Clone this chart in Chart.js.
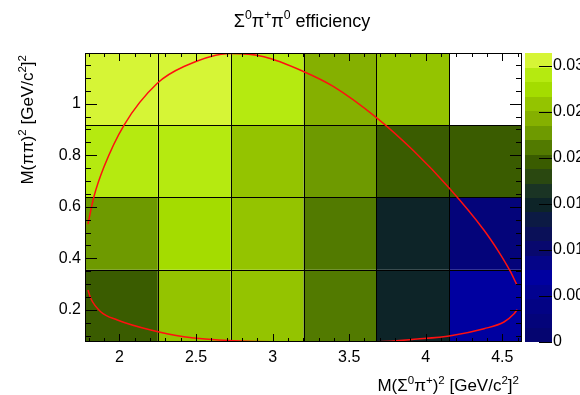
<!DOCTYPE html>
<html>
<head>
<meta charset="utf-8">
<script src="https://cdn.jsdelivr.net/npm/chart.js@4"></script>
<style>
  body { margin: 0; background: #fff; overflow: hidden; }
  canvas { display: block; }
</style>
</head>
<body>
<canvas id="effChart" width="580" height="395"></canvas>
<script>
// bin edges of the 6 x 4 histogram (kinematic limits split evenly)
const xBinEdges = [1.7748, 2.2505, 2.7262, 3.2018, 3.6775, 4.1531, 4.6288];
const yBinEdges = [0.0754, 0.3557, 0.6360, 0.9162, 1.1965];

// efficiency per bin, one array per M(pipi)^2 row, bottom row first; null = empty bin
const effRow1 = [0.0195, 0.0262, 0.0256, 0.0210, 0.0148, 0.0072];
const effRow2 = [0.0226, 0.0276, 0.0255, 0.0213, 0.0151, 0.0025];
const effRow3 = [0.0288, 0.0293, 0.0258, 0.0230, 0.0197, 0.0200];
const effRow4 = [0.0312, 0.0305, 0.0291, 0.0244, 0.0262, null];
const effRows = [effRow1, effRow2, effRow3, effRow4];

// Dalitz boundary, upper and lower branch
const upperX = [1.794, 1.833, 1.899, 2.030, 2.247, 2.421, 2.726, 2.944, 3.205, 3.396, 3.680, 3.919, 4.159, 4.381, 4.474, 4.550, 4.594];
const upperY = [0.533, 0.639, 0.755, 0.917, 1.079, 1.144, 1.195, 1.182, 1.124, 1.067, 0.945, 0.818, 0.669, 0.509, 0.428, 0.352, 0.299];
const lowerX = [1.794, 1.812, 1.877, 1.986, 2.204, 2.421, 2.748, 3.183, 3.684, 3.945, 4.163, 4.381, 4.511, 4.577, 4.598];
const lowerY = [0.277, 0.245, 0.193, 0.161, 0.122, 0.096, 0.080, 0.0756, 0.0766, 0.087, 0.100, 0.127, 0.153, 0.185, 0.201];

// axis ticks
const xTickVals = [2, 2.5, 3, 3.5, 4, 4.5];
const yTickVals = [0.2, 0.4, 0.6, 0.8, 1];
const zTickVals = [0, 0.005, 0.01, 0.015, 0.02, 0.025, 0.03];
const zTickText = ['0', '0.005', '0.01', '0.015', '0.02', '0.025', '0.03'];
const zMax = 0.0314;

// 20 colour levels, lowest first
const palette = [
  '#050570', '#04047a', '#030384', '#020290', '#0000a0',
  '#050588', '#08086e', '#0a1058', '#0c1a44', '#0d2428',
  '#1a3424', '#2a4810', '#3a5c00', '#527a00', '#6e9a00',
  '#85b000', '#94c400', '#a4dc00', '#b5ea10', '#d6f536'
];

const FONT = '"Liberation Sans", Arial, Helvetica, sans-serif';

function levelColor(v) {
  let i = Math.floor(v / zMax * palette.length);
  i = Math.max(0, Math.min(palette.length - 1, i));
  return palette[i];
}

// text with superscript pieces: parts = [[text, isSup], ...]
function richWidth(ctx, parts, size) {
  let w = 0;
  parts.forEach(p => {
    ctx.font = (p[1] ? size * 0.68 : size) + 'px ' + FONT;
    w += ctx.measureText(p[0]).width;
  });
  return w;
}

function drawRich(ctx, parts, x, y, size, align) {
  let w = richWidth(ctx, parts, size);
  let cx = align === 'right' ? x - w : align === 'center' ? x - w / 2 : x;
  ctx.textAlign = 'left';
  ctx.textBaseline = 'alphabetic';
  ctx.fillStyle = '#000';
  parts.forEach(p => {
    let s = p[1] ? size * 0.68 : size;
    ctx.font = s + 'px ' + FONT;
    ctx.fillText(p[0], cx, p[1] ? y - size * 0.42 : y);
    cx += ctx.measureText(p[0]).width;
  });
}

const th2Plugin = {
  id: 'th2',
  beforeDatasetsDraw(chart) {
    const { ctx, chartArea, scales } = chart;
    const xs = scales.x, ys = scales.y;
    ctx.save();
    // filled bins
    effRows.forEach((row, j) => {
      row.forEach((v, i) => {
        if (v === null) return;
        const x0 = xs.getPixelForValue(xBinEdges[i]);
        const x1 = xs.getPixelForValue(xBinEdges[i + 1]);
        const y0 = ys.getPixelForValue(yBinEdges[j + 1]);
        const y1 = ys.getPixelForValue(yBinEdges[j]);
        ctx.fillStyle = levelColor(v);
        ctx.fillRect(x0, y0, x1 - x0, y1 - y0);
      });
    });
    // grid at bin edges
    ctx.strokeStyle = '#000';
    ctx.lineWidth = 1;
    ctx.beginPath();
    xBinEdges.slice(1, -1).forEach(e => {
      const px = Math.round(xs.getPixelForValue(e)) + 0.5;
      ctx.moveTo(px, chartArea.top);
      ctx.lineTo(px, chartArea.bottom);
    });
    yBinEdges.slice(1, -1).forEach(e => {
      const py = Math.round(ys.getPixelForValue(e)) + 0.5;
      ctx.moveTo(chartArea.left, py);
      ctx.lineTo(chartArea.right, py);
    });
    ctx.stroke();
    ctx.restore();
  },
  afterDatasetsDraw(chart) {
    const { ctx, chartArea: a, scales } = chart;
    const xs = scales.x, ys = scales.y, zs = scales.z;
    ctx.save();
    ctx.strokeStyle = '#000';
    ctx.lineWidth = 1;

    // frame
    ctx.strokeRect(a.left + 0.5, a.top + 0.5, a.right - a.left - 1, a.bottom - a.top - 1);

    // inward ticks on all four sides
    ctx.beginPath();
    for (let k = 18; k <= 46; k++) {
      const v = k / 10;
      const px = Math.round(xs.getPixelForValue(v)) + 0.5;
      const len = k % 5 === 0 ? 8 : 4;
      ctx.moveTo(px, a.bottom); ctx.lineTo(px, a.bottom - len);
      ctx.moveTo(px, a.top); ctx.lineTo(px, a.top + len);
    }
    for (let k = 2; k <= 23; k++) {
      const v = k * 0.05;
      const py = Math.round(ys.getPixelForValue(v)) + 0.5;
      const len = k % 4 === 0 ? 12 : 6;
      ctx.moveTo(a.left, py); ctx.lineTo(a.left + len, py);
      ctx.moveTo(a.right, py); ctx.lineTo(a.right - len, py);
    }
    ctx.stroke();

    // colour bar
    const barL = 525, barR = 552;
    palette.forEach((c, i) => {
      const y0 = zs.getPixelForValue(zMax * (i + 1) / palette.length);
      const y1 = zs.getPixelForValue(zMax * i / palette.length);
      ctx.fillStyle = c;
      ctx.fillRect(barL, Math.floor(y0), barR - barL, Math.ceil(y1) - Math.floor(y0));
    });
    ctx.beginPath();
    zTickVals.forEach(v => {
      const py = Math.round(zs.getPixelForValue(v)) + 0.5;
      ctx.moveTo(barR, py); ctx.lineTo(barR - 13, py);
    });
    ctx.stroke();
    ctx.fillStyle = '#000';
    ctx.font = '16px ' + FONT;
    ctx.textAlign = 'left';
    ctx.textBaseline = 'middle';
    zTickVals.forEach((v, i) => {
      ctx.fillText(zTickText[i], barR + 1, zs.getPixelForValue(v));
    });

    // titles
    drawRich(ctx, [['\u03A3', 0], ['0', 1], ['\u03C0', 0], ['+', 1], ['\u03C0', 0], ['0', 1], [' efficiency', 0]],
      302, 27, 18, 'center');
    drawRich(ctx, [['M(\u03A3', 0], ['0', 1], ['\u03C0', 0], ['+', 1], [')', 0], ['2', 1],
      [' [GeV/c', 0], ['2', 1], [']', 0], ['2', 1]], a.right - 3, 391, 17, 'right');
    ctx.save();
    ctx.translate(33, a.top + 2);
    ctx.rotate(-Math.PI / 2);
    drawRich(ctx, [['M(\u03C0\u03C0)', 0], ['2', 1], [' [GeV/c', 0], ['2', 1], [']', 0], ['2', 1]],
      0, 0, 17, 'right');
    ctx.restore();

    ctx.restore();
  }
};

const curveData = (xv, yv) => xv.map((x, i) => ({ x: x, y: yv[i] }));

new Chart(document.getElementById('effChart'), {
  type: 'scatter',
  data: {
    datasets: [
      { data: curveData(upperX, upperY), showLine: true, borderColor: '#ff1010', borderWidth: 1.5, pointRadius: 0, cubicInterpolationMode: 'monotone' },
      { data: curveData(lowerX, lowerY), showLine: true, borderColor: '#ff1010', borderWidth: 1.5, pointRadius: 0, cubicInterpolationMode: 'monotone' }
    ]
  },
  options: {
    responsive: false,
    animation: false,
    devicePixelRatio: 1,
    layout: { padding: { left: 0, top: 53, right: 58, bottom: 0 } },
    plugins: { legend: { display: false }, tooltip: { enabled: false } },
    scales: {
      x: {
        type: 'linear',
        min: xBinEdges[0],
        max: xBinEdges[xBinEdges.length - 1],
        grid: { display: false, drawTicks: false },
        border: { display: false },
        ticks: { color: '#000', font: { family: FONT, size: 16 }, padding: 6, maxRotation: 0, autoSkip: false, callback: v => String(v) },
        afterBuildTicks: s => { s.ticks = xTickVals.map(v => ({ value: v })); },
        afterFit: s => { s.height = 53; }
      },
      y: {
        type: 'linear',
        min: yBinEdges[0],
        max: yBinEdges[yBinEdges.length - 1],
        grid: { display: false, drawTicks: false },
        border: { display: false },
        ticks: { color: '#000', font: { family: FONT, size: 16 }, padding: 4, autoSkip: false, callback: v => String(v) },
        afterBuildTicks: s => { s.ticks = yTickVals.map(v => ({ value: v })); },
        afterFit: s => { s.width = 85; }
      },
      z: {
        type: 'linear',
        position: 'right',
        display: false,
        min: 0,
        max: zMax
      }
    }
  },
  plugins: [th2Plugin]
});
</script>
</body>
</html>
